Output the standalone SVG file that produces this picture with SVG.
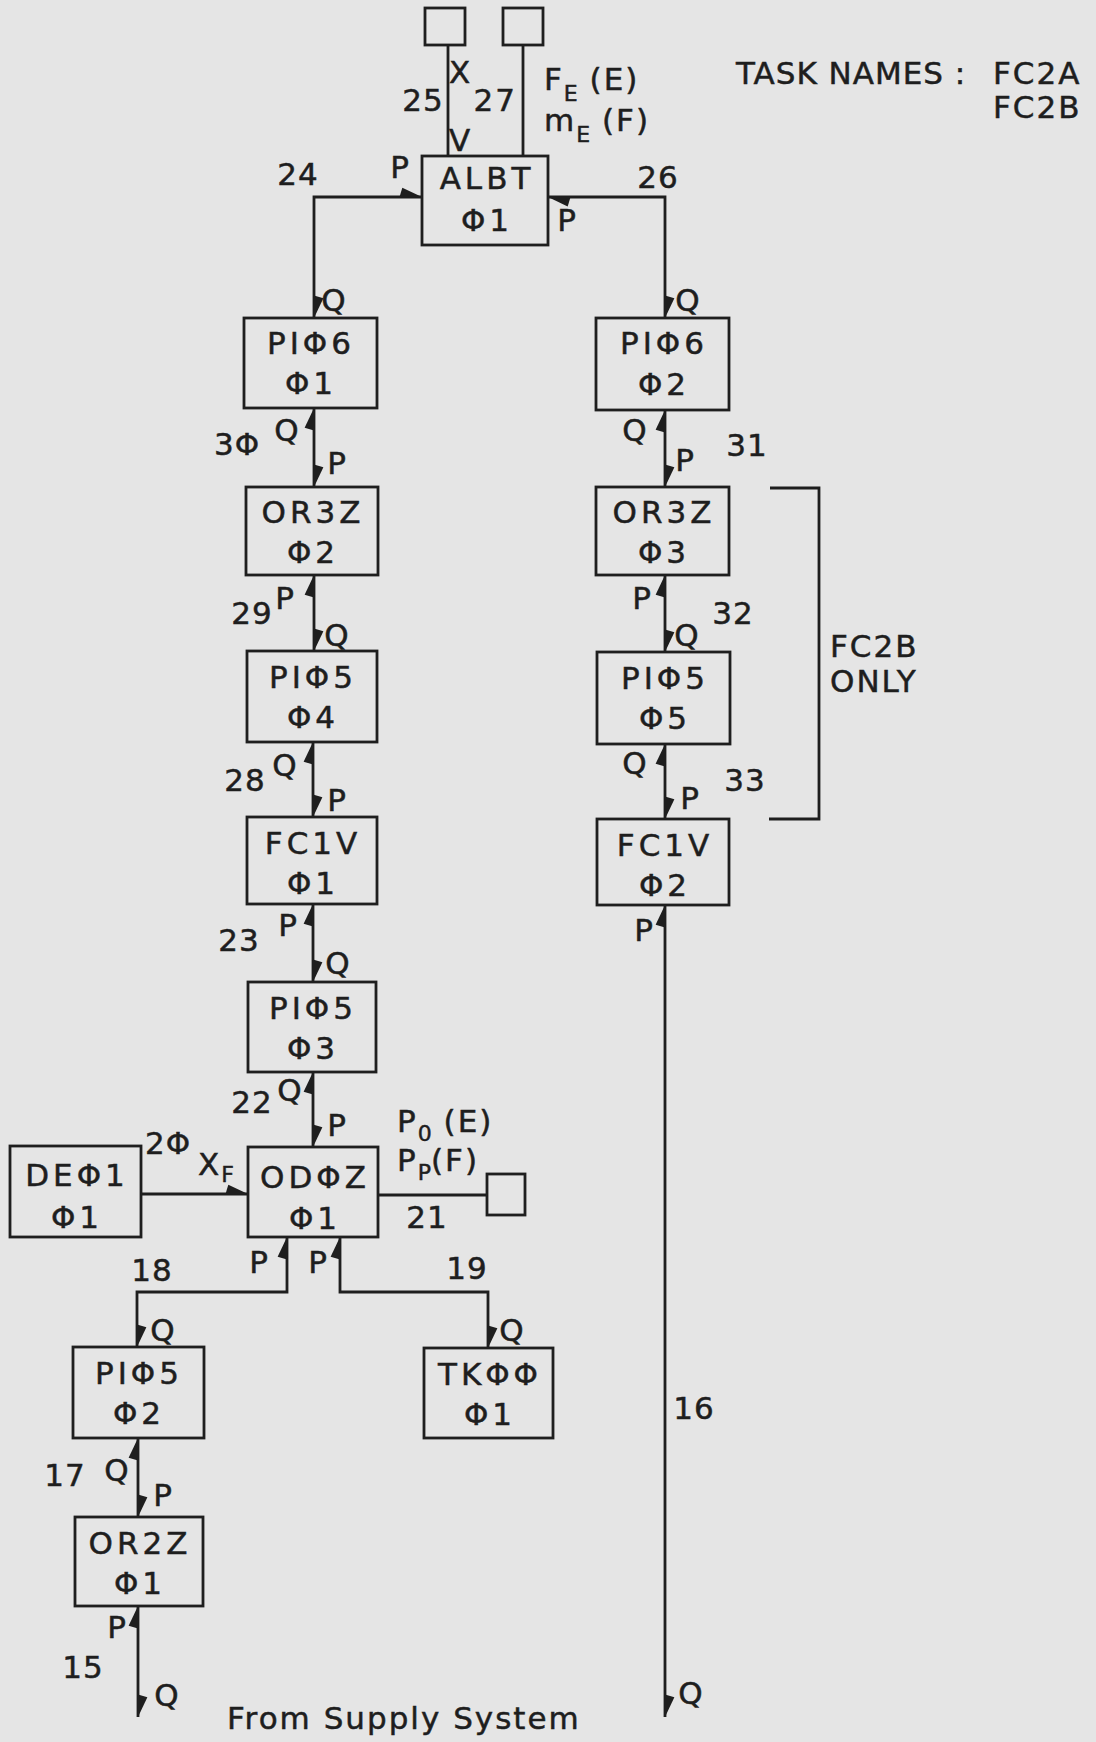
<svg xmlns="http://www.w3.org/2000/svg" width="1096" height="1742" viewBox="0 0 1096 1742">
<defs>
<style>
.bg{fill:#e5e5e5}
.box{fill:none;stroke:#1e1e1e;stroke-width:2.8}
.ln{fill:none;stroke:#1e1e1e;stroke-width:2.8}
.ar{marker-start:url(#ha);marker-end:url(#ha)}
.ae{marker-end:url(#ha)}
text{font-family:"DejaVu Sans","Liberation Sans",sans-serif;font-size:31px;fill:#1e1e1e;stroke:#1e1e1e;stroke-width:0.5;letter-spacing:2px}
.nl{text-anchor:middle;letter-spacing:4px}
.m{text-anchor:middle;letter-spacing:1px}
.sub{font-size:22px;letter-spacing:0}
.tn{letter-spacing:1px}
</style>
<marker id="ha" markerUnits="userSpaceOnUse" markerWidth="30" markerHeight="30" viewBox="-28 -14 32 28" refX="0" refY="0" orient="auto-start-reverse" overflow="visible">
<path d="M0,0 L-21,-10 L-24,0 Z" fill="#1e1e1e"/>
</marker>
</defs>
<rect class="bg" x="0" y="0" width="1096" height="1742"/>

<g id="connectors">
<path id="c25" class="ln" d="M448,45 V156"/>
<path id="c27" class="ln" d="M523,45 V156"/>
<path id="c24" class="ln ar" d="M422,197 H314 V318"/>
<path id="c26" class="ln ar" d="M548,197 H665 V318"/>
<path id="c30" class="ln ar" d="M314,408 V487"/>
<path id="c31" class="ln ar" d="M665,410 V487"/>
<path id="c29" class="ln ar" d="M314,575 V651"/>
<path id="c32" class="ln ar" d="M665,575 V652"/>
<path id="c28" class="ln ar" d="M313,742 V817"/>
<path id="c33" class="ln ar" d="M665,744 V819"/>
<path id="c23" class="ln ar" d="M313,904 V982"/>
<path id="c22" class="ln ar" d="M313,1072 V1147"/>
<path id="c20" class="ln ae" d="M141,1194 H248"/>
<path id="c21" class="ln" d="M378,1195 H487"/>
<path id="c18" class="ln ar" d="M287,1237 V1292 H137 V1347"/>
<path id="c19" class="ln ar" d="M340,1237 V1292 H488 V1348"/>
<path id="c17" class="ln ar" d="M138,1438 V1517"/>
<path id="c15" class="ln ar" d="M138,1606 V1717"/>
<path id="c16" class="ln ar" d="M665,905 V1717"/>
</g>

<g id="connector-labels">
<text class="m" x="460" y="83">X</text>
<text class="m" x="423" y="111">25</text>
<text x="517" y="111" text-anchor="end" letter-spacing="0">27</text>
<text x="544" y="90">F<tspan class="sub" dy="11">E</tspan><tspan dy="-11"> (E)</tspan></text>
<text class="m" x="460" y="151">V</text>
<text x="544" y="131">m<tspan class="sub" dy="11">E</tspan><tspan dy="-11"> (F)</tspan></text>
<text class="m" x="400" y="178">P</text>
<text class="m" x="658" y="188">26</text>
<text class="m" x="567" y="231">P</text>
<text class="m" x="298" y="185">24</text>
<text class="m" x="334" y="311">Q</text>
<text class="m" x="688" y="311">Q</text>
<text class="m" x="237" y="455">3Φ</text>
<text class="m" x="287" y="441">Q</text>
<text class="m" x="337" y="474">P</text>
<text class="m" x="747" y="456">31</text>
<text class="m" x="635" y="441">Q</text>
<text class="m" x="685" y="471">P</text>
<text class="m" x="252" y="624">29</text>
<text class="m" x="285" y="609">P</text>
<text class="m" x="337" y="646">Q</text>
<text class="m" x="733" y="624">32</text>
<text class="m" x="642" y="609">P</text>
<text class="m" x="687" y="646">Q</text>
<text class="m" x="245" y="791">28</text>
<text class="m" x="285" y="776">Q</text>
<text class="m" x="337" y="811">P</text>
<text class="m" x="745" y="791">33</text>
<text class="m" x="635" y="774">Q</text>
<text class="m" x="690" y="809">P</text>
<text class="m" x="644" y="941">P</text>
<text class="m" x="239" y="951">23</text>
<text class="m" x="288" y="936">P</text>
<text class="m" x="338" y="974">Q</text>
<text class="m" x="252" y="1113">22</text>
<text class="m" x="290" y="1101">Q</text>
<text class="m" x="337" y="1136">P</text>
<text class="m" x="168" y="1154">2Φ</text>
<text x="198" y="1175">X<tspan class="sub" dy="7">F</tspan></text>
<text x="397" y="1132">P<tspan class="sub" dy="9">0</tspan><tspan dy="-9"> (E)</tspan></text>
<text x="397" y="1171">P<tspan class="sub" dy="9">P</tspan><tspan dy="-9">(F)</tspan></text>
<text class="m" x="427" y="1228">21</text>
<text class="m" x="152" y="1281">18</text>
<text class="m" x="259" y="1273">P</text>
<text class="m" x="318" y="1273">P</text>
<text class="m" x="467" y="1279">19</text>
<text class="m" x="163" y="1341">Q</text>
<text class="m" x="512" y="1341">Q</text>
<text class="m" x="694" y="1419">16</text>
<text class="m" x="65" y="1486">17</text>
<text class="m" x="117" y="1481">Q</text>
<text class="m" x="163" y="1506">P</text>
<text class="m" x="117" y="1638">P</text>
<text class="m" x="83" y="1678">15</text>
<text class="m" x="167" y="1706">Q</text>
<text class="m" x="691" y="1704">Q</text>
</g>

<g id="term-x"><rect class="box" x="425" y="8" width="40" height="37"/></g>
<g id="term-fe"><rect class="box" x="503" y="8" width="40" height="37"/></g>
<g id="term-p0"><rect class="box" x="487" y="1174" width="38" height="41"/></g>

<g id="albt-01"><rect class="box" x="422" y="156" width="126" height="89"/><text class="nl" x="487" y="189">ALBT</text><text class="nl" x="487" y="231">Φ1</text></g>
<g id="pi06-01"><rect class="box" x="244" y="318" width="133" height="90"/><text class="nl" x="311" y="354">PIΦ6</text><text class="nl" x="311" y="394">Φ1</text></g>
<g id="pi06-02"><rect class="box" x="596" y="318" width="133" height="92"/><text class="nl" x="664" y="354">PIΦ6</text><text class="nl" x="664" y="395">Φ2</text></g>
<g id="or3z-02"><rect class="box" x="246" y="487" width="132" height="88"/><text class="nl" x="313" y="523">OR3Z</text><text class="nl" x="313" y="563">Φ2</text></g>
<g id="or3z-03"><rect class="box" x="596" y="487" width="133" height="88"/><text class="nl" x="664" y="523">OR3Z</text><text class="nl" x="664" y="563">Φ3</text></g>
<g id="pi05-04"><rect class="box" x="247" y="651" width="130" height="91"/><text class="nl" x="313" y="688">PIΦ5</text><text class="nl" x="313" y="728">Φ4</text></g>
<g id="pi05-05"><rect class="box" x="597" y="652" width="133" height="92"/><text class="nl" x="665" y="689">PIΦ5</text><text class="nl" x="665" y="729">Φ5</text></g>
<g id="fc1v-01"><rect class="box" x="247" y="817" width="130" height="87"/><text class="nl" x="313" y="854">FC1V</text><text class="nl" x="313" y="894">Φ1</text></g>
<g id="fc1v-02"><rect class="box" x="597" y="819" width="132" height="86"/><text class="nl" x="665" y="856">FC1V</text><text class="nl" x="665" y="896">Φ2</text></g>
<g id="pi05-03"><rect class="box" x="248" y="982" width="128" height="90"/><text class="nl" x="313" y="1019">PIΦ5</text><text class="nl" x="313" y="1059">Φ3</text></g>
<g id="odoz-01"><rect class="box" x="248" y="1147" width="130" height="90"/><text class="nl" x="315" y="1188">ODΦZ</text><text class="nl" x="315" y="1229">Φ1</text></g>
<g id="deo1-01"><rect class="box" x="10" y="1146" width="131" height="91"/><text class="nl" x="77" y="1186">DEΦ1</text><text class="nl" x="77" y="1228">Φ1</text></g>
<g id="pi05-02"><rect class="box" x="73" y="1347" width="131" height="91"/><text class="nl" x="139" y="1384">PIΦ5</text><text class="nl" x="139" y="1424">Φ2</text></g>
<g id="tkoo-01"><rect class="box" x="424" y="1348" width="129" height="90"/><text class="nl" x="490" y="1385">TKΦΦ</text><text class="nl" x="490" y="1425">Φ1</text></g>
<g id="or2z-01"><rect class="box" x="75" y="1517" width="128" height="89"/><text class="nl" x="140" y="1554">OR2Z</text><text class="nl" x="140" y="1594">Φ1</text></g>

<g id="annotations">
<path class="ln" d="M770,488 H819 V819 H769"/>
<text x="830" y="657">FC2B</text>
<text x="830" y="692">ONLY</text>
<text class="tn" x="736" y="84">TASK NAMES :</text>
<text x="993" y="84">FC2A</text>
<text x="993" y="118">FC2B</text>
<text x="227" y="1729">From Supply System</text>
</g>
</svg>
